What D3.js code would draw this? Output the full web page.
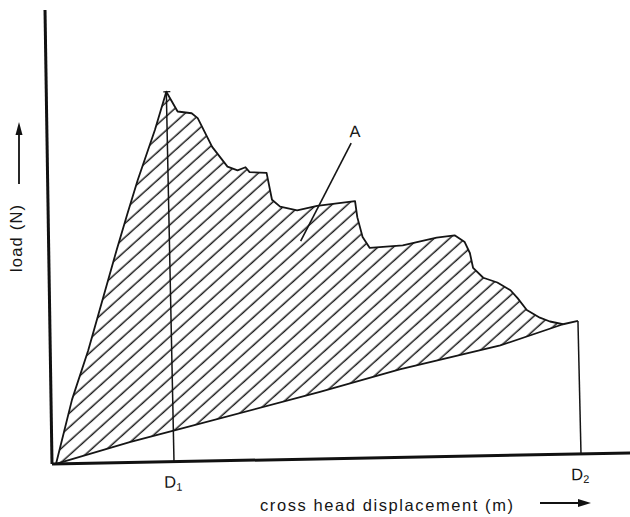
<!DOCTYPE html>
<html>
<head>
<meta charset="utf-8">
<script src="https://cdn.jsdelivr.net/npm/d3@7"></script>
<style>
  html, body { margin: 0; padding: 0; background: #fff; }
  svg { display: block; }
  text { font-family: "Liberation Sans", Arial, Helvetica, sans-serif; fill: #151515; }
</style>
</head>
<body>
<div id="chart"></div>
<script>
// ---- data (displacement units, load units) ----
const upperX = [4, 12, 21, 38, 68, 79, 90, 108, 120, 131, 145, 151, 165, 180, 190, 198, 202, 219, 224, 232, 249, 269, 307, 309, 314, 321, 354, 388, 406, 416, 421, 424, 434, 448, 461, 468, 477, 490, 500, 513];
const upperY = [0, 30, 64, 113, 213, 248, 282, 332, 370, 350, 348, 343, 314, 294, 290, 293, 288, 287, 260, 253, 249, 253, 257, 241, 221, 210, 212, 219, 221, 214, 203, 188, 178, 173, 165, 157, 145, 137, 133, 130];
const tailX = [513, 528];
const tailY = [130, 133];
const lowerX = [4, 78, 122, 269, 349, 450, 513];
const lowerY = [0, 20.5, 31, 67, 88, 110, 130];
const peak = {x: 120, y: 370};
const D1 = 122, D2 = 529;
const endLoad = 133;
const tickLabels = [{x: D1, name: "D", sub: "1"}, {x: D2, name: "D", sub: "2"}];
const annotation = {label: "A", textX: 308, textY: 327, fromX: 304, fromY: 315, toX: 252, toY: 218};
const xTitle = "cross head displacement (m)";
const yTitle = "load (N)";
const xMax = 578, yMax = 454;

// ---- drawing ----
const W = 630, H = 517;
const svg = d3.select("#chart").append("svg").attr("width", W).attr("height", H);

const defs = svg.append("defs");
const pat = defs.append("pattern")
  .attr("id", "hatch").attr("patternUnits", "userSpaceOnUse")
  .attr("width", 12).attr("height", 10.4)
  .attr("patternTransform", "rotate(-41)");
pat.append("line").attr("x1", -2).attr("x2", 14).attr("y1", 5).attr("y2", 5)
  .attr("stroke", "#1a1a1a").attr("stroke-width", 1.5);

const x = d3.scaleLinear().domain([0, xMax]).range([0, xMax]);
const y = d3.scaleLinear().domain([0, yMax]).range([0, -yMax]);

// slight scan tilt of the original figure
const g = svg.append("g").attr("transform", "matrix(1,-0.019,0.0154,1,52,464)");

const upper = upperX.map((v, i) => [v, upperY[i]]);
const lower = lowerX.map((v, i) => [v, lowerY[i]]);
const tail = tailX.map((v, i) => [v, tailY[i]]);

const line = d3.line().x(d => x(d[0])).y(d => y(d[1]));

// hatched area between loading curve and unloading line
g.append("path")
  .attr("d", line(upper.concat(lower.slice().reverse())) + "Z")
  .attr("fill", "url(#hatch)").attr("stroke", "none");

const stroke = "#151515";
g.append("path").attr("d", line(upper)).attr("fill", "none").attr("stroke", stroke).attr("stroke-width", 1.8).attr("stroke-linejoin", "round");
g.append("path").attr("d", line(tail)).attr("fill", "none").attr("stroke", stroke).attr("stroke-width", 1.8);
g.append("path").attr("d", line(lower)).attr("fill", "none").attr("stroke", stroke).attr("stroke-width", 1.8);

// D1 line from peak to axis, D2 line from end to axis
g.append("path").attr("d", line([[peak.x, peak.y], [D1, 0]])).attr("fill", "none").attr("stroke", stroke).attr("stroke-width", 1.5);
g.append("path").attr("d", line([[D2 - 1, endLoad], [D2, 0]])).attr("fill", "none").attr("stroke", stroke).attr("stroke-width", 1.5);
// small tick at the peak
g.append("path").attr("d", line([[peak.x - 3, peak.y], [peak.x + 4, peak.y]])).attr("stroke", stroke).attr("stroke-width", 1.2);

// axes
g.append("path").attr("d", line([[0, 0], [xMax, 0]])).attr("stroke", "#111").attr("stroke-width", 3);
g.append("path").attr("d", line([[0, 0], [0, yMax]])).attr("stroke", "#111").attr("stroke-width", 3);

// annotation A
g.append("path").attr("d", line([[annotation.fromX, annotation.fromY], [annotation.toX, annotation.toY]]))
  .attr("stroke", stroke).attr("stroke-width", 1.6);
g.append("text").attr("x", x(annotation.textX)).attr("y", y(annotation.textY) + 6)
  .attr("text-anchor", "middle").attr("font-size", 16.5).text(annotation.label);

// D labels
tickLabels.forEach(t => {
  const tx = g.append("text").attr("x", x(t.x) - 1).attr("y", 26).attr("text-anchor", "middle").attr("font-size", 16.5);
  tx.append("tspan").text(t.name);
  tx.append("tspan").attr("font-size", 11).attr("dy", 3).text(t.sub);
});

// axis titles
svg.append("text").attr("x", 260).attr("y", 511).attr("font-size", 16.5)
  .attr("textLength", 253).attr("lengthAdjust", "spacing").text(xTitle);
svg.append("text").attr("transform", "translate(22,272) rotate(-90)").attr("font-size", 16.5)
  .attr("textLength", 67).attr("lengthAdjust", "spacing").text(yTitle);

// direction arrows
svg.append("line").attr("x1", 540).attr("y1", 503).attr("x2", 580).attr("y2", 503)
  .attr("stroke", "#111").attr("stroke-width", 1.8);
svg.append("path").attr("d", "M578,499 L591,503 L578,507 Z").attr("fill", "#111");
svg.append("line").attr("x1", 19).attr("y1", 184).attr("x2", 19).attr("y2", 132)
  .attr("stroke", "#111").attr("stroke-width", 1.8);
svg.append("path").attr("d", "M15.5,135 L19,122 L22.5,135 Z").attr("fill", "#111");
</script>
</body>
</html>
